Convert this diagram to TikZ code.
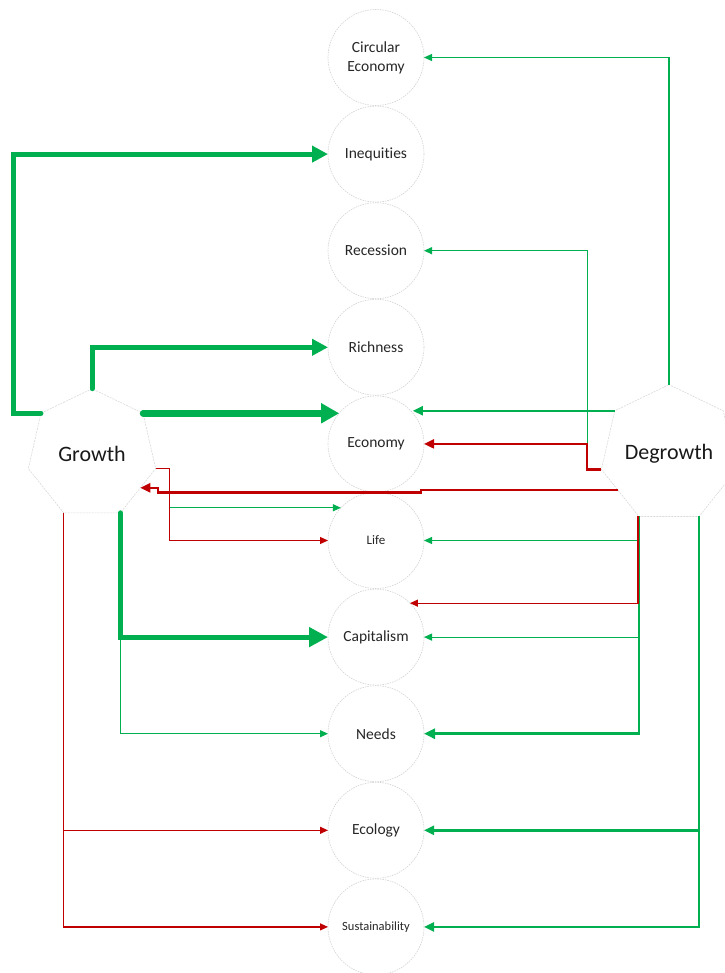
\documentclass[tikz,border=0pt]{standalone}
\usepackage{fontspec}
\setmainfont[Ligatures=NoCommon]{Carlito}
\usepackage{tikz}
\usetikzlibrary{arrows.meta,shapes.geometric}

\definecolor{ggreen}{HTML}{00B050}
\definecolor{rred}{HTML}{C00000}

\tikzset{
  topic/.style={circle,draw=gray!35,dash pattern=on 1.5pt off 1pt,line width=0.6pt,
    minimum size=96pt,inner sep=0pt,outer sep=0pt,align=center,text=black!85,
    font=\fontsize{15.5}{19}\selectfont},
  pole/.style={regular polygon,regular polygon sides=7,minimum size=130.6pt,
    inner sep=0pt,outer sep=0pt,draw=gray!30,dash pattern=on 2pt off 1pt,
    line width=0.6pt,text=black!90,font=\fontsize{22}{26}\selectfont},
  gthin/.style={draw=ggreen,line width=1.2pt,-{Triangle[length=8pt,width=7pt]}},
  rthin/.style={draw=rred,line width=1.2pt,-{Triangle[length=8pt,width=7pt]}},
  gmid/.style={draw=ggreen,line width=2.2pt,-{Triangle[length=10pt,width=9pt]}},
  rmid/.style={draw=rred,line width=2.2pt,-{Triangle[length=10pt,width=9pt]}},
  gfat/.style={draw=ggreen,line width=5pt,line cap=round,-{Triangle[length=16pt,width=16pt]}},
}

\begin{document}
\begin{tikzpicture}[x=1pt,y=-1pt]

  \useasboundingbox (0,0) rectangle (724,973);

  % the column of topics
  \node[topic] (circ)  at (376,57.5)  {Circular\\Economy};
  \node[topic] (ineq)  at (376,154.1) {Inequities};
  \node[topic] (rec)   at (376,250.7) {Recession};
  \node[topic] (rich)  at (376,347.3) {Richness};
  \node[topic] (econ)  at (376,443.9) {Economy};
  \node[topic,font=\fontsize{13}{16}\selectfont] (life) at (376,540.5) {Life};
  \node[topic] (cap)   at (376,637.1) {Capitalism};
  \node[topic] (needs) at (376,733.7) {Needs};
  \node[topic] (eco)   at (376,830.3) {Ecology};
  \node[topic,font=\fontsize{12.5}{15}\selectfont] (sus) at (376,926.9) {Sustainability};

  % the two poles
  \node[pole] (gr) at (92,454)  {Growth};
  \node[pole] (dg) at (669,454) {Degrowth};

  % growth
  \draw[gfat] (gr.corner 2) -- ++(-27,0) |- (ineq.west);
  \draw[gfat] (gr.corner 1) |- (rich.west);
  \draw[gfat,line width=6.5pt,-{Triangle[length=18pt,width=19pt]}] (gr.corner 7) -- (gr.corner 7 -| econ.140);
  \draw[gthin] (gr.corner 6) -- ++(14,0) |- (life.137);
  \draw[rthin] (gr.corner 6) -- ++(14,0) |- (life.west);
  \draw[gthin] (gr.corner 5) |- (needs.west);
  \draw[gfat,-{Triangle[length=19pt,width=19pt]}] (gr.corner 5) |- (cap.west);
  \draw[rthin] (gr.corner 4) |- (eco.west);
  \draw[rthin] (gr.corner 4) |- (sus.west);

  % degrowth
  \draw[gthin] (dg.corner 1) |- (circ.east);
  \draw[gthin] (dg.corner 3) -- ++(-14,0) |- (rec.east);
  \draw[rmid]  (dg.corner 3) -- ++(-14,0) |- (econ.east);
  \draw[gmid]  (dg.corner 2) -- (dg.corner 2 -| econ.40);
  \draw[rmid]  (dg.215.7) -- ++(-197,0) -- ++(0,2.5) -| ([xshift=18pt]gr.-35.7) -- (gr.-35.7);
  \draw[gmid,line width=2.8pt,-{Triangle[length=11pt,width=10pt]}] (dg.corner 4) |- (needs.east);
  \draw[gthin] (dg.corner 4) |- (life.east);
  \draw[gthin] (dg.corner 4) |- (cap.east);
  \draw[rthin] ([xshift=-1pt]dg.corner 4) |- (cap.45);
  \draw[gmid,line width=2.6pt] (dg.corner 5) |- (eco.east);
  \draw[gmid,line width=2.6pt] (dg.corner 5) |- (sus.east);

\end{tikzpicture}
\end{document}
